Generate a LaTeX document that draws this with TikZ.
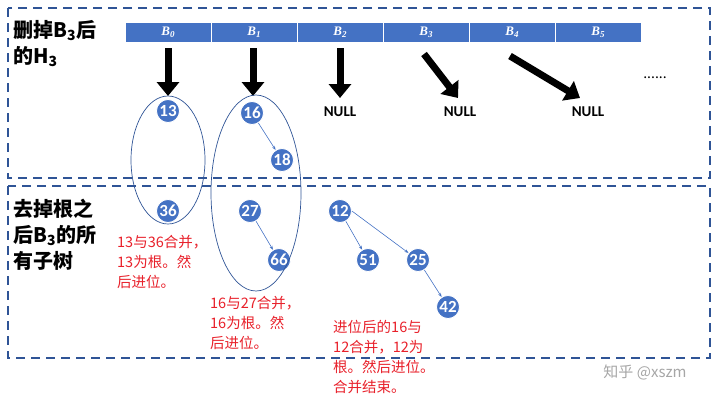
\documentclass[tikz,border=0pt]{standalone}
\usepackage{fontspec}
\setmainfont{Noto Sans CJK SC}
\newfontfamily\calfnt{Carlito}
\newfontfamily\serfnt{Liberation Serif}
\usetikzlibrary{arrows.meta,shapes.arrows}
\definecolor{dk}{HTML}{2F5496}
\definecolor{nb}{HTML}{4472C4}
\definecolor{rd}{HTML}{E8202A}
\tikzset{
 frame/.style={draw=dk,line width=2pt,dash pattern=on 9pt off 6pt},
 cell/.style={fill=nb,draw=white,line width=0.6pt,minimum width=86pt,minimum height=20pt,inner sep=0,text=white,font=\serfnt\bfseries\itshape\fontsize{13}{13}\selectfont},
 nd/.style={circle,fill=nb,draw=white,line width=0.8pt,minimum size=23pt,inner sep=0,text=white,font=\calfnt\bfseries\fontsize{17}{17}\selectfont},
 big/.style={-{Triangle[length=14pt,width=22pt]},line width=7pt,shorten >=0pt},
 thin/.style={-{Stealth[length=4pt]},draw=nb,line width=0.6pt},
 nul/.style={font=\calfnt\bfseries\fontsize{15}{15}\selectfont},
 side/.style={font=\bfseries\fontsize{20}{26}\selectfont,align=left,anchor=north west,inner sep=0},
 red/.style={text=rd,font=\fontsize{14.5}{20}\selectfont,align=left,anchor=north west,inner sep=0}
}
\begin{document}
\begin{tikzpicture}[x=1pt,y=-1pt]
\useasboundingbox (0,0) rectangle (720,400);
\draw[frame] (8,8) rectangle (710,178);
\draw[frame] (8,186) rectangle (710,358);
\foreach \i/\x in {0/168,1/254,2/340,3/426,4/512,5/598}
  \node[cell] (b\i) at (\x,32) {B\raisebox{-0.3ex}{\fontsize{9}{9}\selectfont\i}};
\node[side] (l1) at (13,20) {删掉B\textsubscript{3}后\\的H\textsubscript{3}};
\node[side] (l2) at (13,199) {去掉根之\\后B\textsubscript{3}的所\\有子树};
\node[nd] (n13) at (168,111) {13};
\node[nd] (n16) at (252,113) {16};
\node[nd] (n18) at (282,160) {18};
\node[nd] (n36) at (168,211) {36};
\node[nd] (n27) at (250,211) {27};
\node[nd] (n66) at (279,260) {66};
\node[nd] (n12) at (340,211) {12};
\node[nd] (n51) at (368,260) {51};
\node[nd] (n25) at (418,260) {25};
\node[nd] (n42) at (448,307) {42};
\node[nul] (u2) at (340,112) {NULL};
\node[nul] (u3) at (460,112) {NULL};
\node[nul] (u4) at (588,112) {NULL};
\node[font=\fontsize{14}{14}\selectfont] (dots) at (655,78) {......};
\coordinate (a0) at (168,48); \coordinate (a1) at (253,48); \coordinate (a2) at (340,48);
\coordinate (a3) at (424,54); \coordinate (a4) at (510,56);
\draw[big] (a0) -- (168,96);
\draw[big] (a1) -- (253,96);
\draw[big] (a2) -- (340,98);
\draw[big] (a3) -- (458,98);
\draw[big] (a4) -- (580,98);
\draw[thin] (n16) -- (n18);
\draw[thin] (n27) -- (n66);
\draw[thin] (n12) -- (n51);
\draw[thin] (n12.east) -- (n25);
\draw[thin] (n25) -- (n42);
\draw[dk,line width=0.7pt] (168,160) ellipse [x radius=37, y radius=64];
\draw[dk,line width=0.7pt] (256,193) ellipse [x radius=45, y radius=98];
\node[red] (r1) at (117,235) {13与36合并，\\13为根。然\\后进位。};
\node[red] (r2) at (210,296) {16与27合并，\\16为根。然\\后进位。};
\node[red] (r3) at (333,320) {进位后的16与\\12合并，12为\\根。然后进位。\\合并结束。};
\node[text=gray!70,font=\fontsize{15}{15}\selectfont] (wm) at (645,372) {知乎 @xszm};
\end{tikzpicture}
\end{document}
